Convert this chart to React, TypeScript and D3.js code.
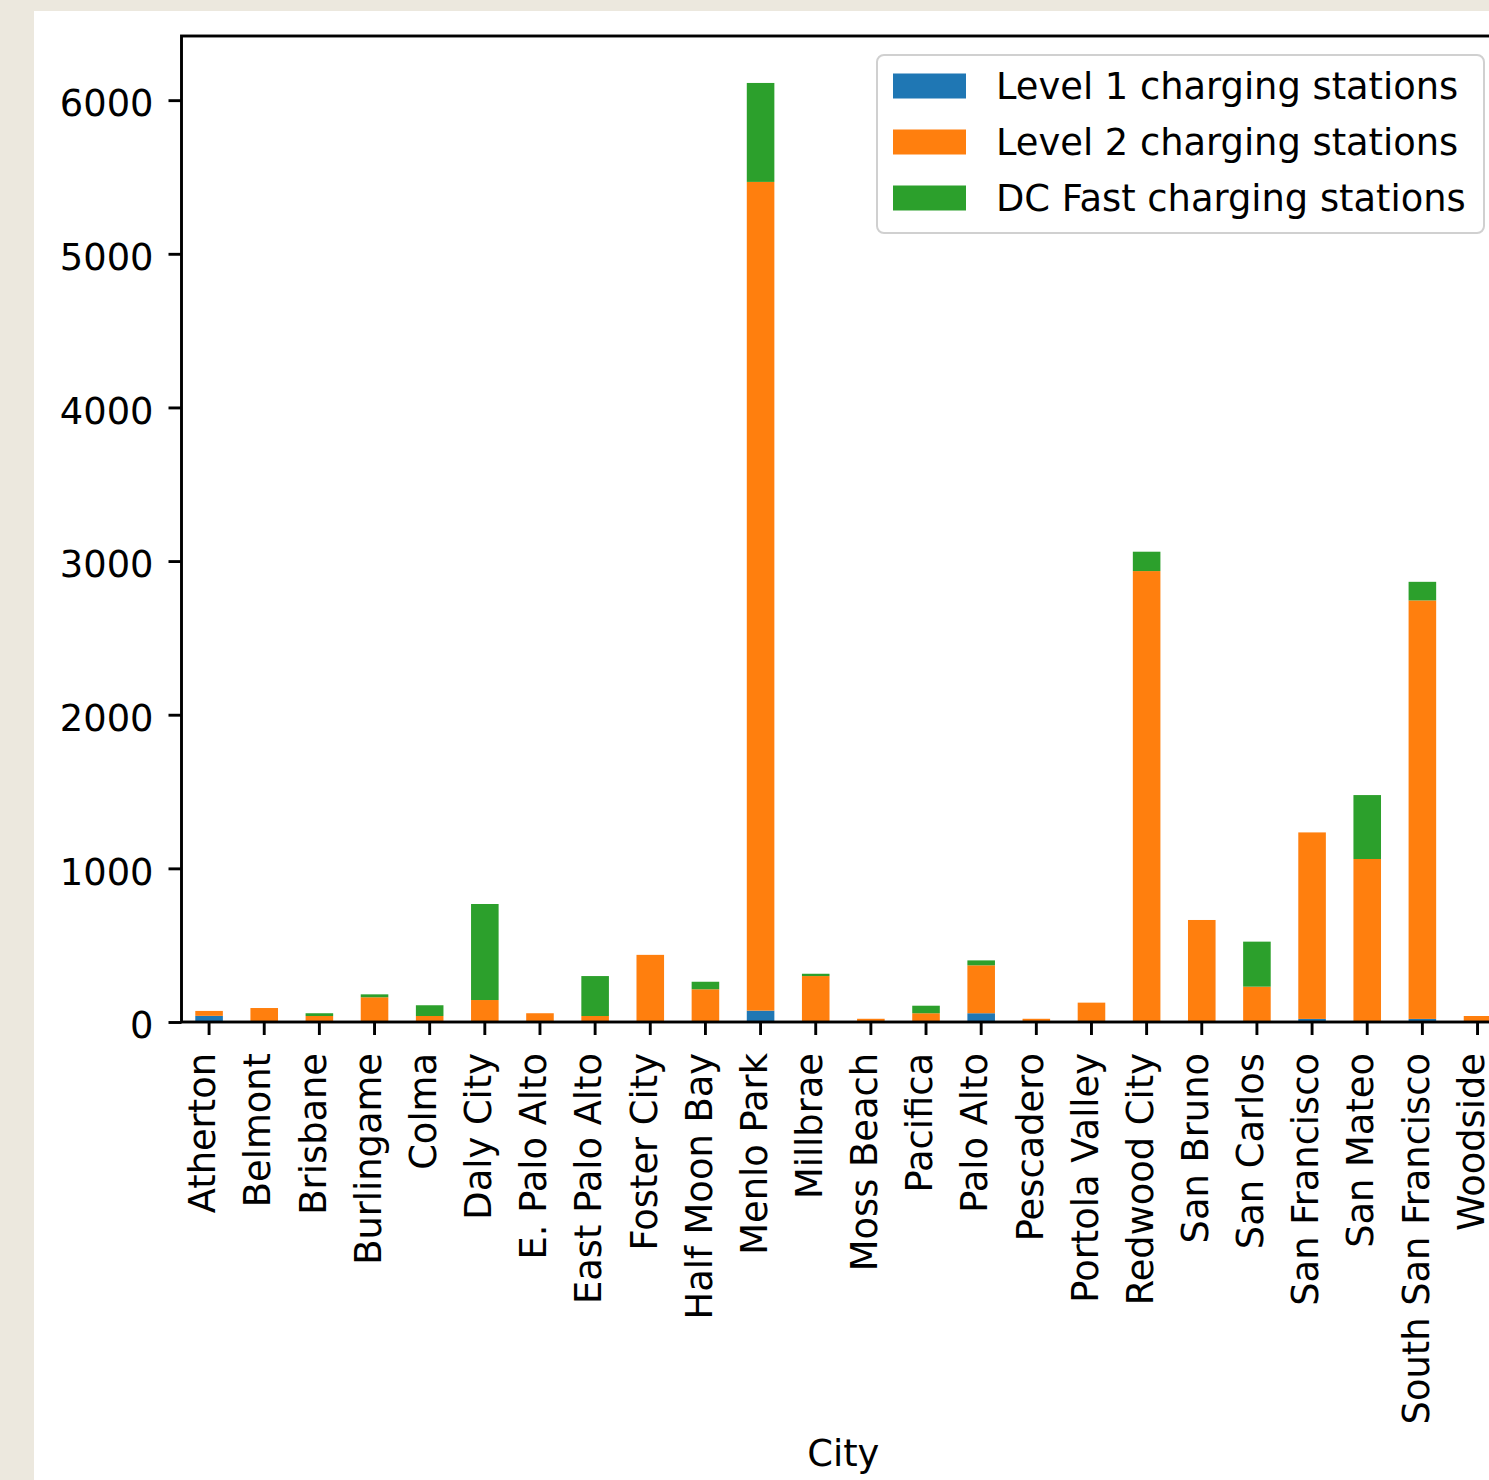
import React, { useEffect, useRef } from 'react';
import * as d3 from 'd3';

const cities = [
  'Atherton', 'Belmont', 'Brisbane', 'Burlingame', 'Colma', 'Daly City',
  'E. Palo Alto', 'East Palo Alto', 'Foster City', 'Half Moon Bay', 'Menlo Park',
  'Millbrae', 'Moss Beach', 'Pacifica', 'Palo Alto', 'Pescadero', 'Portola Valley',
  'Redwood City', 'San Bruno', 'San Carlos', 'San Francisco', 'San Mateo',
  'South San Francisco', 'Woodside'
];

const level1 = [40, 0, 0, 0, 0, 0, 0, 0, 0, 0, 74, 0, 0, 0, 57, 0, 0, 0, 0, 0, 20, 0, 20, 0];
const level2 = [32, 91, 39, 161, 39, 143, 57, 39, 437, 213, 5394, 299, 21, 57, 312, 21, 126, 2935, 664, 230, 1214, 1061, 2724, 39];
const dcFast = [0, 0, 18, 19, 70, 625, 0, 260, 0, 49, 644, 15, 0, 49, 32, 0, 0, 126, 0, 293, 0, 416, 121, 0];

const seriesNames = ['Level 1 charging stations', 'Level 2 charging stations', 'DC Fast charging stations'];
const seriesColors = ['#1f77b4', '#ff7f0e', '#2ca02c'];
const yTicks = [0, 1000, 2000, 3000, 4000, 5000, 6000];

export default function App() {
  const chartRef = useRef<SVGSVGElement | null>(null);

  useEffect(() => {
    if (!chartRef.current) return;
    const svg = d3.select(chartRef.current);
    svg.selectAll('*').remove();

    const font = "'DejaVu Sans', sans-serif";
    const fontSize = '36.8px';
    const left = 181.5, top = 36, bottom = 1022;
    const step = 55.15;
    const right = left + step * cities.length;

    svg.append('rect').attr('width', 1489).attr('height', 1480).attr('fill', '#ece8de');
    svg.append('rect').attr('x', 34).attr('y', 11).attr('width', 1489).attr('height', 1480).attr('fill', '#ffffff');

    const rows = cities.map((c, i) => ({ city: c, l1: level1[i], l2: level2[i], dc: dcFast[i] }));
    const stack = d3.stack<any>().keys(['l1', 'l2', 'dc'])(rows);
    const maxTotal = d3.max(rows, d => d.l1 + d.l2 + d.dc) as number;

    const x = d3.scaleBand()
      .domain(cities)
      .range([left, right])
      .paddingInner(0.5)
      .paddingOuter(0.25);

    const y = d3.scaleLinear()
      .domain([0, maxTotal * 1.05])
      .range([bottom, top]);

    stack.forEach((layer, k) => {
      svg.append('g')
        .selectAll('rect')
        .data(layer)
        .join('rect')
        .attr('x', d => x(d.data.city) as number)
        .attr('width', x.bandwidth())
        .attr('y', d => y(d[1]))
        .attr('height', d => y(d[0]) - y(d[1]))
        .attr('fill', seriesColors[k]);
    });

    // y axis
    const yAxis = d3.axisLeft(y).tickValues(yTicks).tickSize(13).tickPadding(15).tickFormat(d3.format('d'));
    svg.append('g')
      .attr('transform', `translate(${left},0)`)
      .call(yAxis)
      .call(g => g.select('.domain').remove())
      .call(g => g.selectAll('.tick line').attr('stroke', '#000').attr('stroke-width', 2.9))
      .call(g => g.selectAll('text')
        .attr('fill', '#000')
        .attr('dy', '0.43em')
        .attr('font-size', fontSize)
        .attr('font-family', font));

    // x axis
    const xAxis = d3.axisBottom(x).tickSize(13).tickPadding(0);
    svg.append('g')
      .attr('transform', `translate(0,${bottom})`)
      .call(xAxis)
      .call(g => g.select('.domain').remove())
      .call(g => g.selectAll('.tick line').attr('stroke', '#000').attr('stroke-width', 2.9))
      .call(g => g.selectAll('text')
        .attr('fill', '#000')
        .attr('font-size', fontSize)
        .attr('font-family', font)
        .attr('text-anchor', 'end')
        .attr('transform', 'translate(0,31) rotate(-90)')
        .attr('x', 0)
        .attr('y', 0)
        .attr('dy', '0.17em'));

    // spines
    svg.append('rect')
      .attr('x', left)
      .attr('y', top)
      .attr('width', right - left)
      .attr('height', bottom - top)
      .attr('fill', 'none')
      .attr('stroke', '#000')
      .attr('stroke-width', 2.9);

    svg.append('text')
      .attr('x', (left + right) / 2)
      .attr('y', 1466)
      .attr('text-anchor', 'middle')
      .attr('fill', '#000')
      .attr('font-size', fontSize)
      .attr('font-family', font)
      .text('City');

    // legend
    const lg = svg.append('g');
    lg.append('rect')
      .attr('x', 877)
      .attr('y', 55)
      .attr('width', 607)
      .attr('height', 178)
      .attr('rx', 7)
      .attr('fill', '#fff')
      .attr('fill-opacity', 0.8)
      .attr('stroke', '#d0d0d0')
      .attr('stroke-width', 2);

    seriesNames.forEach((name, i) => {
      const cy = 86 + i * 56;
      lg.append('rect')
        .attr('x', 893)
        .attr('y', cy - 12.5)
        .attr('width', 73)
        .attr('height', 25)
        .attr('fill', seriesColors[i]);
      lg.append('text')
        .attr('x', 996)
        .attr('y', cy)
        .attr('dy', '0.35em')
        .attr('fill', '#000')
        .attr('font-size', fontSize)
        .attr('font-family', font)
        .text(name);
    });
  }, []);

  return (
    <svg
      ref={chartRef}
      width={1489}
      height={1480}
      style={{ position: 'absolute', left: 0, top: 0, display: 'block' }}
    />
  );
}
